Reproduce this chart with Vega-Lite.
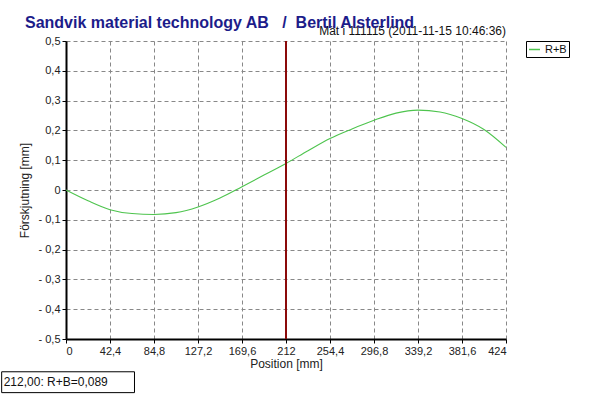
{
  "$schema": "https://vega.github.io/schema/vega-lite/v6.json",
  "width": 440,
  "height": 298,
  "autosize": "none",
  "padding": {"left": 66, "top": 41, "right": 90, "bottom": 57},
  "background": "white",
  "config": {
    "font": "Liberation Sans",
    "view": {"stroke": null},
    "axis": {"labelFont": "Liberation Sans", "titleFont": "Liberation Sans", "labelFontSize": 11, "titleFontSize": 12, "titleFontWeight": "normal", "labelColor": "#222", "titleColor": "#222", "labelOverlap": false}
  },
  "title": {
    "text": "Sandvik material technology AB \u00a0\u00a0/\u00a0 Bertil Alsterlind",
    "anchor": "start",
    "frame": "group",
    "dx": -41,
    "dy": 14,
    "offset": 8,
    "font": "Liberation Sans",
    "fontSize": 16,
    "fontWeight": "bold",
    "color": "#1c1c8a"
  },
  "layer": [
    {
      "data": {"values": [
        {"position": 0, "value": 0, "series": "R+B"},
        {"position": 21.2, "value": -0.036, "series": "R+B"},
        {"position": 42.4, "value": -0.066, "series": "R+B"},
        {"position": 63.6, "value": -0.079, "series": "R+B"},
        {"position": 84.8, "value": -0.082, "series": "R+B"},
        {"position": 106, "value": -0.076, "series": "R+B"},
        {"position": 127.2, "value": -0.057, "series": "R+B"},
        {"position": 148.4, "value": -0.027, "series": "R+B"},
        {"position": 169.6, "value": 0.011, "series": "R+B"},
        {"position": 190.8, "value": 0.05, "series": "R+B"},
        {"position": 212, "value": 0.089, "series": "R+B"},
        {"position": 233.2, "value": 0.132, "series": "R+B"},
        {"position": 254.4, "value": 0.173, "series": "R+B"},
        {"position": 275.6, "value": 0.205, "series": "R+B"},
        {"position": 296.8, "value": 0.234, "series": "R+B"},
        {"position": 318, "value": 0.258, "series": "R+B"},
        {"position": 339.2, "value": 0.268, "series": "R+B"},
        {"position": 360.4, "value": 0.262, "series": "R+B"},
        {"position": 381.6, "value": 0.24, "series": "R+B"},
        {"position": 402.8, "value": 0.203, "series": "R+B"},
        {"position": 424, "value": 0.143, "series": "R+B"}
      ]},
      "mark": {"type": "line", "interpolate": "monotone", "strokeWidth": 1.1},
      "encoding": {
        "x": {
          "field": "position", "type": "quantitative",
          "scale": {"domain": [0, 424], "nice": false, "zero": false},
          "axis": {
            "title": "Position [mm]",
            "values": [0, 42.4, 84.8, 127.2, 169.6, 212, 254.4, 296.8, 339.2, 381.6, 424],
            "tickCount": 20,
            "labelExpr": "replace(format(datum.value, '.1~f'), '.', ',')",
            "labelOverlap": false,
            "grid": true, "gridDash": [4, 3], "gridColor": "#888", "gridOpacity": 1,
            "domainColor": "black", "domainWidth": 2,
            "tickColor": "black", "tickSize": 4, "labelPadding": 2, "titlePadding": 2
          }
        },
        "y": {
          "field": "value", "type": "quantitative",
          "scale": {"domain": [-0.5, 0.5], "nice": false, "zero": false},
          "axis": {
            "title": "Förskjutning [mm]",
            "values": [-0.5, -0.4, -0.3, -0.2, -0.1, 0, 0.1, 0.2, 0.3, 0.4, 0.5],
            "tickCount": 20,
            "labelExpr": "abs(datum.value) < 1e-9 ? '0' : (datum.value < 0 ? '- ' + replace(format(-datum.value, '.1f'), '.', ',') : replace(format(datum.value, '.1f'), '.', ','))",
            "labelOverlap": false,
            "grid": true, "gridDash": [4, 3], "gridColor": "#888", "gridOpacity": 1,
            "domainColor": "black", "domainWidth": 2,
            "tickColor": "black", "tickSize": 4, "labelPadding": 2, "titlePadding": 6
          }
        },
        "color": {
          "field": "series", "type": "nominal",
          "scale": {"range": ["#4ec44e"]},
          "legend": {
            "title": null, "orient": "right", "offset": 17,
            "symbolType": "stroke", "symbolSize": 120, "symbolStrokeWidth": 1.5,
            "labelFontSize": 11, "labelFont": "Liberation Sans", "labelColor": "#111",
            "strokeColor": "black", "fillColor": "white", "padding": 2
          }
        }
      }
    },
    {
      "data": {"values": [{"marker": 212}]},
      "mark": {"type": "rule", "color": "#8b0a0a", "strokeWidth": 2},
      "encoding": {"x": {"field": "marker", "type": "quantitative"}}
    },
    {
      "data": {"values": [{"label": "Mät i 111115 (2011-11-15 10:46:36)", "px": 424, "py": 0.5}]},
      "mark": {"type": "text", "align": "right", "baseline": "bottom", "dy": -3, "fontSize": 12, "font": "Liberation Sans", "color": "#111"},
      "encoding": {
        "x": {"field": "px", "type": "quantitative"},
        "y": {"field": "py", "type": "quantitative"},
        "text": {"field": "label"}
      }
    },
    {
      "data": {"values": [{"x0": -62, "x1": 66, "y0": -0.61, "y1": -0.68}]},
      "mark": {"type": "rect", "fill": "white", "stroke": "black", "strokeWidth": 1},
      "encoding": {
        "x": {"field": "x0", "type": "quantitative"},
        "x2": {"field": "x1"},
        "y": {"field": "y0", "type": "quantitative"},
        "y2": {"field": "y1"}
      }
    },
    {
      "data": {"values": [{"label": "212,00: R+B=0,089", "px": -61, "py": -0.645}]},
      "mark": {"type": "text", "align": "left", "baseline": "middle", "dx": 1, "fontSize": 12, "font": "Liberation Sans", "color": "#111"},
      "encoding": {
        "x": {"field": "px", "type": "quantitative"},
        "y": {"field": "py", "type": "quantitative"},
        "text": {"field": "label"}
      }
    }
  ]
}
